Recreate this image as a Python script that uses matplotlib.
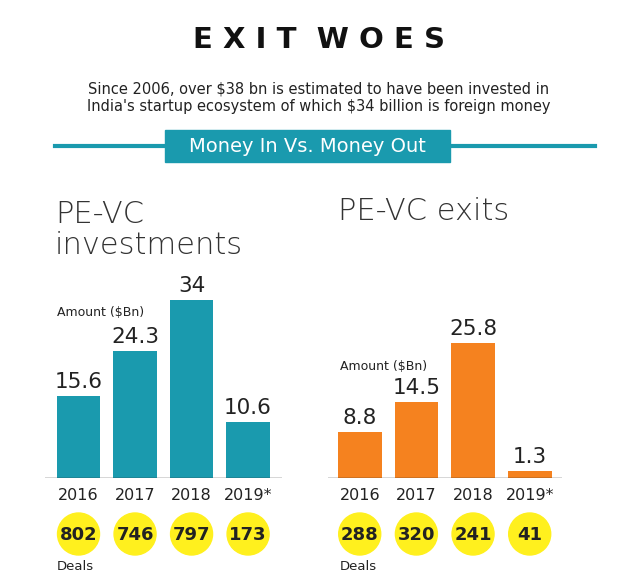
import matplotlib
matplotlib.use("Agg")
import matplotlib.pyplot as plt
from matplotlib.patches import Circle, Rectangle

years = ["2016", "2017", "2018", "2019*"]
invest = [15.6, 24.3, 34, 10.6]
exits = [8.8, 14.5, 25.8, 1.3]
invest_deals = [802, 746, 797, 173]
exit_deals = [288, 320, 241, 41]
invest_labels = ["15.6", "24.3", "34", "10.6"]
exit_labels = ["8.8", "14.5", "25.8", "1.3"]

TEAL = "#1a9aae"
ORANGE = "#f5821f"
YELLOW = "#fff01e"
W, H = 638, 579
fig = plt.figure(figsize=(W/100, H/100), dpi=100)
fig.patch.set_facecolor("white")

ov = fig.add_axes([0, 0, 1, 1])
ov.set_xlim(0, W); ov.set_ylim(H, 0); ov.axis("off")

ov.text(W/2, 40, "E X I T  W O E S", ha="center", va="center", fontsize=21,
        fontweight="black", family="DejaVu Sans", color="#111")
ov.text(W/2, 89, "Since 2006, over $38 bn is estimated to have been invested in",
        ha="center", va="center", fontsize=10.5, color="#222")
ov.text(W/2, 106, "India's startup ecosystem of which $34 billion is foreign money",
        ha="center", va="center", fontsize=10.5, color="#222")
ov.plot([55, 595], [146, 146], color=TEAL, lw=3)
ov.add_patch(Rectangle((165, 130), 285, 32, color=TEAL))
ov.text(307, 146, "Money In Vs. Money Out", ha="center", va="center",
        fontsize=14, color="white")
ov.text(55, 230, "PE-VC\ninvestments", ha="left", va="center", fontsize=22,
        color="#333", fontweight="light", linespacing=1.05)
ov.text(338, 212, "PE-VC exits", ha="left", va="center", fontsize=22,
        color="#333", fontweight="light")

def panel(x0, x1, xmin, xmax, vals, labels, deals, color, amt_y):
    ax = fig.add_axes([x0/W, (H-478)/H, (x1-x0)/W, 198/H])
    ax.bar(range(4), vals, width=0.77, color=color)
    ax.set_xlim(xmin, xmax); ax.set_ylim(0, 37.8)
    ax.axis("off")
    ax.axhline(0, color="#333", lw=1)
    for i, (v, l) in enumerate(zip(vals, labels)):
        ax.text(i, v + 0.8, l, ha="center", va="bottom", fontsize=15.5, color="#222")
    ov.text(x0 + 12, amt_y, "Amount ($Bn)", ha="left", va="center", fontsize=9, color="#222")
    for i, (y, d) in enumerate(zip(years, deals)):
        px = ax.transData.transform((i, 0))[0]
        ov.text(px, 496, y, ha="center", va="center", fontsize=11.5, color="#222")
        ov.add_patch(Circle((px, 534), 21, color=YELLOW))
        ov.text(px, 535, str(d), ha="center", va="center", fontsize=13,
                fontweight="bold", color="#222")
    ov.text(x0 + 12, 566, "Deals", ha="left", va="center", fontsize=9.5, color="#222")

panel(45, 282, -0.593, 3.6, invest, invest_labels, invest_deals, TEAL, 312)
panel(328, 562, -0.56, 3.57, exits, exit_labels, exit_deals, ORANGE, 366)

fig.savefig("out.png", dpi=100)
